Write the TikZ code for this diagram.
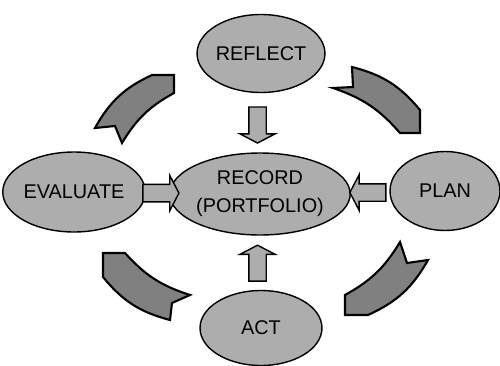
\documentclass[tikz,border=0pt]{standalone}
\usepackage{fontspec}
\setmainfont{Liberation Sans}
\usepackage{tkz-euclide}
\usetikzlibrary{shapes.geometric,shapes.arrows,calc}

\definecolor{ovalgray}{gray}{0.68}
\definecolor{ringgray}{gray}{0.5}

\tikzset{
  stage/.style={ellipse, draw, fill=ovalgray, line width=0.8pt, inner sep=0pt,
    minimum width=2.44cm, minimum height=1.56cm, align=center,
    font=\fontsize{11.3}{16}\selectfont},
  push/.style={single arrow, draw, fill=ovalgray, line width=0.8pt,
    inner xsep=0pt, inner ysep=0.16cm, minimum height=0.72cm,
    single arrow head extend=0.18cm, single arrow tip angle=125},
  ring/.style={draw, fill=ringgray, line width=1.2pt, line join=miter}
}

\begin{document}
\begin{tikzpicture}[x=0.02cm, y=-0.02cm]
  \useasboundingbox (0,0) rectangle (500,365);

  \node[stage] (reflect) at (261,53.5) {REFLECT};
  \node[stage, minimum width=3.12cm, minimum height=1.64cm] (record) at (260,194) {RECORD\\(PORTFOLIO)};
  \node[stage, minimum height=1.6cm] (evaluate) at (74,192) {EVALUATE};
  \node[stage, minimum width=2.2cm, minimum height=1.58cm] (plan) at (445,191) {PLAN};
  \node[stage, minimum height=1.5cm] (act) at (261,328) {ACT};

  % straight arrows into the record
  \node[push, rotate=-90] (down) at ($(reflect.south)!0.5!(record.north)+(-3,0)$) {};
  \node[push] (right) at ($(evaluate.east)!0.55!(record.west)$) {};
  \node[push, rotate=180] (left) at ($(record.east)!0.5!(plan.west)$) {};
  \node[push, rotate=90] (up) at ($(record.south)!0.55!(act.north)+(-3,0)$) {};

  % ring of curved arrows
  \tkzDefPoints{95/128/tlF, 152/75/tlA, 174/75/tlB, 174/93/tlC, 122/143/tlD, 115/126/tlE}
  \tkzDefPoints{352/67/trF, 420/110/trA, 420/133/trB, 400/133/trC, 333/88/trD, 353/87/trE}
  \tkzDefPoints{428/260/brF, 368/315/brA, 345/315/brB, 345/295/brC, 400/242/brD, 407/263/brE}
  \tkzDefPoints{170/320/blF, 103/277/blA, 103/253/blB, 125/253/blC, 190/295/blD, 172/303/blE}

  \draw[ring] (tlF) to[bend left=18] (tlA) -- (tlB) -- (tlC) to[bend right=15] (tlD) -- (tlE) -- cycle;
  \draw[ring] (trF) to[bend left=18] (trA) -- (trB) -- (trC) to[bend right=15] (trD) -- (trE) -- cycle;
  \draw[ring] (brF) to[bend left=18] (brA) -- (brB) -- (brC) to[bend right=15] (brD) -- (brE) -- cycle;
  \draw[ring] (blF) to[bend left=18] (blA) -- (blB) -- (blC) to[bend right=15] (blD) -- (blE) -- cycle;
\end{tikzpicture}
\end{document}
